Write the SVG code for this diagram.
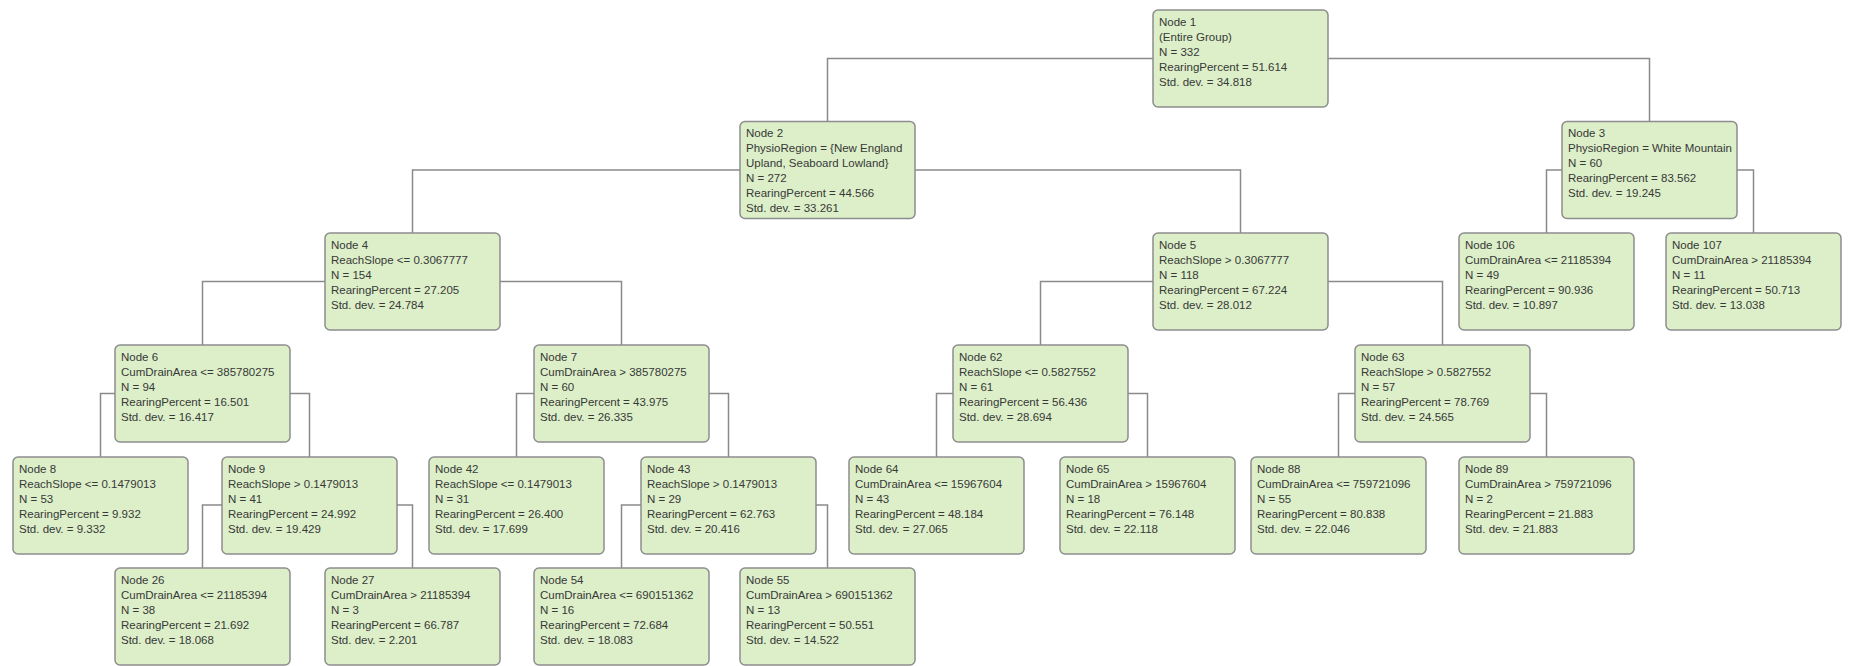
<svg xmlns="http://www.w3.org/2000/svg" width="1852" height="666" viewBox="0 0 1852 666">
<style>
.box{fill:#dcefc8;stroke:#8d8d8d;stroke-width:1.5}
.t{font-family:"Liberation Sans",Arial,sans-serif;font-size:11.5px;fill:#383838}
.c{fill:none;stroke:#8a8a8a;stroke-width:1.5}
</style>
<rect width="1852" height="666" fill="#fff"/>
<g id="connectors" class="c">
<path d="M1153 58.5H827.5V121.5"/>
<path d="M1328 58.5H1649.5V121.5"/>
<path d="M740 170H412.5V233"/>
<path d="M915 170H1240.5V233"/>
<path d="M1562 170H1546.5V233"/>
<path d="M1737 170H1753.5V233"/>
<path d="M325 281.5H202.5V345"/>
<path d="M500 281.5H621.5V345"/>
<path d="M1153 281.5H1040.5V345"/>
<path d="M1328 281.5H1442.5V345"/>
<path d="M115 393.5H100.5V457"/>
<path d="M290 393.5H309.5V457"/>
<path d="M534 393.5H516.5V457"/>
<path d="M709 393.5H728.5V457"/>
<path d="M953 393.5H936.5V457"/>
<path d="M1128 393.5H1147.5V457"/>
<path d="M1355 393.5H1338.5V457"/>
<path d="M1530 393.5H1546.5V457"/>
<path d="M222 505H202.5V568"/>
<path d="M397 505H412.5V568"/>
<path d="M641 505H621.5V568"/>
<path d="M816 505H827.5V568"/>
</g>
<g id="node1" transform="translate(1153,10)"><rect class="box" width="175" height="97" rx="5"/><text class="t" x="6" y="15.5">Node 1<tspan x="6" dy="15">(Entire Group)</tspan><tspan x="6" dy="15">N = 332</tspan><tspan x="6" dy="15">RearingPercent = 51.614</tspan><tspan x="6" dy="15">Std. dev. = 34.818</tspan></text></g>
<g id="node2" transform="translate(740,121.5)"><rect class="box" width="175" height="97" rx="5"/><text class="t" x="6" y="15.5">Node 2<tspan x="6" dy="15">PhysioRegion = {New England</tspan><tspan x="6" dy="15">Upland, Seaboard Lowland}</tspan><tspan x="6" dy="15">N = 272</tspan><tspan x="6" dy="15">RearingPercent = 44.566</tspan><tspan x="6" dy="15">Std. dev. = 33.261</tspan></text></g>
<g id="node3" transform="translate(1562,121.5)"><rect class="box" width="175" height="97" rx="5"/><text class="t" x="6" y="15.5">Node 3<tspan x="6" dy="15">PhysioRegion = White Mountain</tspan><tspan x="6" dy="15">N = 60</tspan><tspan x="6" dy="15">RearingPercent = 83.562</tspan><tspan x="6" dy="15">Std. dev. = 19.245</tspan></text></g>
<g id="node4" transform="translate(325,233)"><rect class="box" width="175" height="97" rx="5"/><text class="t" x="6" y="15.5">Node 4<tspan x="6" dy="15">ReachSlope &lt;= 0.3067777</tspan><tspan x="6" dy="15">N = 154</tspan><tspan x="6" dy="15">RearingPercent = 27.205</tspan><tspan x="6" dy="15">Std. dev. = 24.784</tspan></text></g>
<g id="node5" transform="translate(1153,233)"><rect class="box" width="175" height="97" rx="5"/><text class="t" x="6" y="15.5">Node 5<tspan x="6" dy="15">ReachSlope &gt; 0.3067777</tspan><tspan x="6" dy="15">N = 118</tspan><tspan x="6" dy="15">RearingPercent = 67.224</tspan><tspan x="6" dy="15">Std. dev. = 28.012</tspan></text></g>
<g id="node106" transform="translate(1459,233)"><rect class="box" width="175" height="97" rx="5"/><text class="t" x="6" y="15.5">Node 106<tspan x="6" dy="15">CumDrainArea &lt;= 21185394</tspan><tspan x="6" dy="15">N = 49</tspan><tspan x="6" dy="15">RearingPercent = 90.936</tspan><tspan x="6" dy="15">Std. dev. = 10.897</tspan></text></g>
<g id="node107" transform="translate(1666,233)"><rect class="box" width="175" height="97" rx="5"/><text class="t" x="6" y="15.5">Node 107<tspan x="6" dy="15">CumDrainArea &gt; 21185394</tspan><tspan x="6" dy="15">N = 11</tspan><tspan x="6" dy="15">RearingPercent = 50.713</tspan><tspan x="6" dy="15">Std. dev. = 13.038</tspan></text></g>
<g id="node6" transform="translate(115,345)"><rect class="box" width="175" height="97" rx="5"/><text class="t" x="6" y="15.5">Node 6<tspan x="6" dy="15">CumDrainArea &lt;= 385780275</tspan><tspan x="6" dy="15">N = 94</tspan><tspan x="6" dy="15">RearingPercent = 16.501</tspan><tspan x="6" dy="15">Std. dev. = 16.417</tspan></text></g>
<g id="node7" transform="translate(534,345)"><rect class="box" width="175" height="97" rx="5"/><text class="t" x="6" y="15.5">Node 7<tspan x="6" dy="15">CumDrainArea &gt; 385780275</tspan><tspan x="6" dy="15">N = 60</tspan><tspan x="6" dy="15">RearingPercent = 43.975</tspan><tspan x="6" dy="15">Std. dev. = 26.335</tspan></text></g>
<g id="node62" transform="translate(953,345)"><rect class="box" width="175" height="97" rx="5"/><text class="t" x="6" y="15.5">Node 62<tspan x="6" dy="15">ReachSlope &lt;= 0.5827552</tspan><tspan x="6" dy="15">N = 61</tspan><tspan x="6" dy="15">RearingPercent = 56.436</tspan><tspan x="6" dy="15">Std. dev. = 28.694</tspan></text></g>
<g id="node63" transform="translate(1355,345)"><rect class="box" width="175" height="97" rx="5"/><text class="t" x="6" y="15.5">Node 63<tspan x="6" dy="15">ReachSlope &gt; 0.5827552</tspan><tspan x="6" dy="15">N = 57</tspan><tspan x="6" dy="15">RearingPercent = 78.769</tspan><tspan x="6" dy="15">Std. dev. = 24.565</tspan></text></g>
<g id="node8" transform="translate(13,457)"><rect class="box" width="175" height="97" rx="5"/><text class="t" x="6" y="15.5">Node 8<tspan x="6" dy="15">ReachSlope &lt;= 0.1479013</tspan><tspan x="6" dy="15">N = 53</tspan><tspan x="6" dy="15">RearingPercent = 9.932</tspan><tspan x="6" dy="15">Std. dev. = 9.332</tspan></text></g>
<g id="node9" transform="translate(222,457)"><rect class="box" width="175" height="97" rx="5"/><text class="t" x="6" y="15.5">Node 9<tspan x="6" dy="15">ReachSlope &gt; 0.1479013</tspan><tspan x="6" dy="15">N = 41</tspan><tspan x="6" dy="15">RearingPercent = 24.992</tspan><tspan x="6" dy="15">Std. dev. = 19.429</tspan></text></g>
<g id="node42" transform="translate(429,457)"><rect class="box" width="175" height="97" rx="5"/><text class="t" x="6" y="15.5">Node 42<tspan x="6" dy="15">ReachSlope &lt;= 0.1479013</tspan><tspan x="6" dy="15">N = 31</tspan><tspan x="6" dy="15">RearingPercent = 26.400</tspan><tspan x="6" dy="15">Std. dev. = 17.699</tspan></text></g>
<g id="node43" transform="translate(641,457)"><rect class="box" width="175" height="97" rx="5"/><text class="t" x="6" y="15.5">Node 43<tspan x="6" dy="15">ReachSlope &gt; 0.1479013</tspan><tspan x="6" dy="15">N = 29</tspan><tspan x="6" dy="15">RearingPercent = 62.763</tspan><tspan x="6" dy="15">Std. dev. = 20.416</tspan></text></g>
<g id="node64" transform="translate(849,457)"><rect class="box" width="175" height="97" rx="5"/><text class="t" x="6" y="15.5">Node 64<tspan x="6" dy="15">CumDrainArea &lt;= 15967604</tspan><tspan x="6" dy="15">N = 43</tspan><tspan x="6" dy="15">RearingPercent = 48.184</tspan><tspan x="6" dy="15">Std. dev. = 27.065</tspan></text></g>
<g id="node65" transform="translate(1060,457)"><rect class="box" width="175" height="97" rx="5"/><text class="t" x="6" y="15.5">Node 65<tspan x="6" dy="15">CumDrainArea &gt; 15967604</tspan><tspan x="6" dy="15">N = 18</tspan><tspan x="6" dy="15">RearingPercent = 76.148</tspan><tspan x="6" dy="15">Std. dev. = 22.118</tspan></text></g>
<g id="node88" transform="translate(1251,457)"><rect class="box" width="175" height="97" rx="5"/><text class="t" x="6" y="15.5">Node 88<tspan x="6" dy="15">CumDrainArea &lt;= 759721096</tspan><tspan x="6" dy="15">N = 55</tspan><tspan x="6" dy="15">RearingPercent = 80.838</tspan><tspan x="6" dy="15">Std. dev. = 22.046</tspan></text></g>
<g id="node89" transform="translate(1459,457)"><rect class="box" width="175" height="97" rx="5"/><text class="t" x="6" y="15.5">Node 89<tspan x="6" dy="15">CumDrainArea &gt; 759721096</tspan><tspan x="6" dy="15">N = 2</tspan><tspan x="6" dy="15">RearingPercent = 21.883</tspan><tspan x="6" dy="15">Std. dev. = 21.883</tspan></text></g>
<g id="node26" transform="translate(115,568)"><rect class="box" width="175" height="97" rx="5"/><text class="t" x="6" y="15.5">Node 26<tspan x="6" dy="15">CumDrainArea &lt;= 21185394</tspan><tspan x="6" dy="15">N = 38</tspan><tspan x="6" dy="15">RearingPercent = 21.692</tspan><tspan x="6" dy="15">Std. dev. = 18.068</tspan></text></g>
<g id="node27" transform="translate(325,568)"><rect class="box" width="175" height="97" rx="5"/><text class="t" x="6" y="15.5">Node 27<tspan x="6" dy="15">CumDrainArea &gt; 21185394</tspan><tspan x="6" dy="15">N = 3</tspan><tspan x="6" dy="15">RearingPercent = 66.787</tspan><tspan x="6" dy="15">Std. dev. = 2.201</tspan></text></g>
<g id="node54" transform="translate(534,568)"><rect class="box" width="175" height="97" rx="5"/><text class="t" x="6" y="15.5">Node 54<tspan x="6" dy="15">CumDrainArea &lt;= 690151362</tspan><tspan x="6" dy="15">N = 16</tspan><tspan x="6" dy="15">RearingPercent = 72.684</tspan><tspan x="6" dy="15">Std. dev. = 18.083</tspan></text></g>
<g id="node55" transform="translate(740,568)"><rect class="box" width="175" height="97" rx="5"/><text class="t" x="6" y="15.5">Node 55<tspan x="6" dy="15">CumDrainArea &gt; 690151362</tspan><tspan x="6" dy="15">N = 13</tspan><tspan x="6" dy="15">RearingPercent = 50.551</tspan><tspan x="6" dy="15">Std. dev. = 14.522</tspan></text></g>
</svg>
